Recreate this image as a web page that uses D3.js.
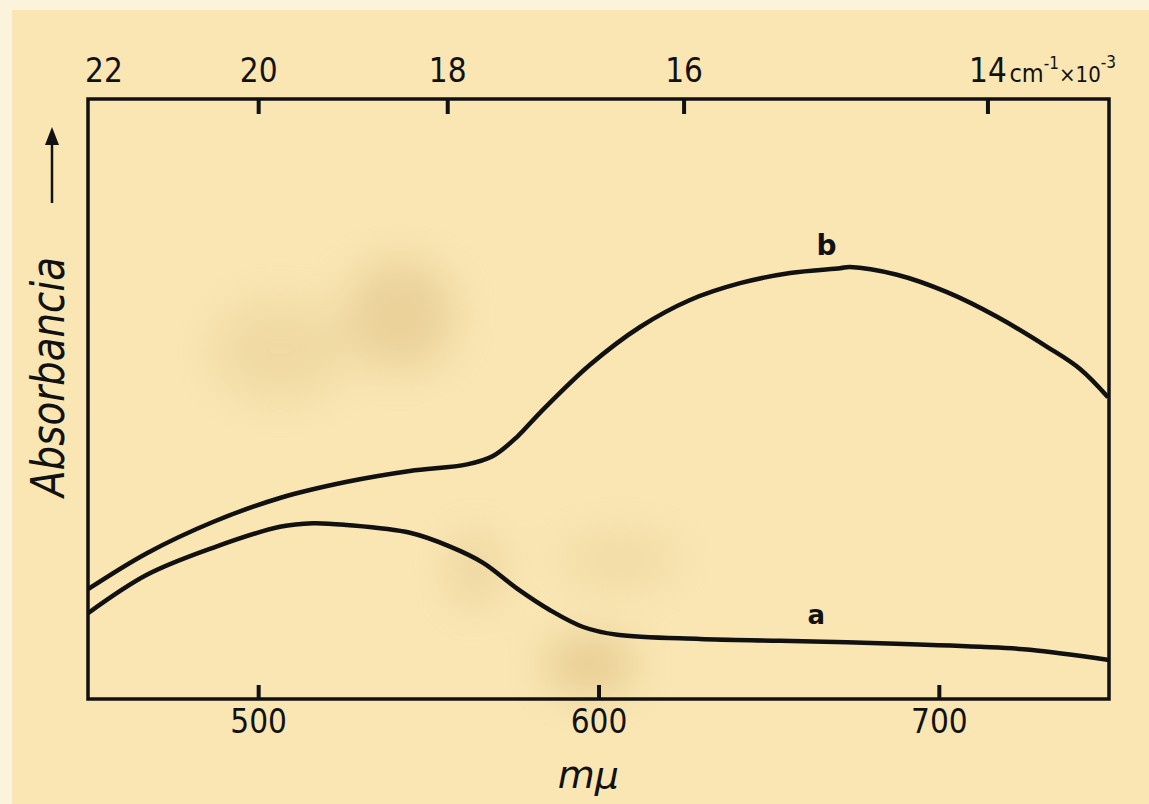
<!DOCTYPE html>
<html>
<head>
<meta charset="utf-8">
<script src="https://cdn.jsdelivr.net/npm/d3@7"></script>
<style>
  body { margin: 0; background: #fbf3dc; }
  svg text { fill: #111; }
</style>
</head>
<body>
<div id="chart"></div>
<script>
// Wavelength (mμ) and absorbance (arbitrary units)
var wavelengthB = [450, 467.3, 486.7, 506.4, 526.1, 544.6, 561.4, 569, 576.1, 582.8, 597.5, 612.2, 626.9, 641.6, 656.3, 671, 673.9, 687.7, 702.4, 717.1, 731.8, 741.5, 749.7];
var absorbB     = [0.183, 0.243, 0.295, 0.335, 0.362, 0.380, 0.391, 0.405, 0.437, 0.477, 0.557, 0.620, 0.665, 0.693, 0.710, 0.718, 0.720, 0.707, 0.678, 0.637, 0.587, 0.550, 0.503];

var wavelengthA = [450, 467.3, 486.7, 506.4, 516.1, 526.1, 544.6, 556.4, 566.1, 576.1, 585.8, 595.5, 605.5, 629.8, 653.4, 682.7, 712.1, 726.8, 750];
var absorbA     = [0.143, 0.207, 0.252, 0.287, 0.293, 0.290, 0.277, 0.254, 0.227, 0.184, 0.148, 0.120, 0.107, 0.100, 0.097, 0.093, 0.087, 0.082, 0.065];

// Tick labels
var nmTicks = [500, 600, 700];
var waveTicks = [22, 20, 18, 16, 14]; // cm-1 x 10-3

var svgWidth = 1149;
var svgHeight = 804;

var margin = { top: 99, right: 40, bottom: 105, left: 88 };
var chartWidth = svgWidth - margin.left - margin.right;
var chartHeight = svgHeight - margin.top - margin.bottom;

var svg = d3.select("#chart")
  .append("svg")
  .attr("width", svgWidth)
  .attr("height", svgHeight);

// paper
var defs = svg.append("defs");
defs.append("filter").attr("id", "blur")
  .append("feGaussianBlur").attr("stdDeviation", 22);

svg.append("rect")
  .attr("x", 12).attr("y", 10)
  .attr("width", svgWidth - 12).attr("height", svgHeight - 10)
  .attr("fill", "#f9e6b3");

var stains = svg.append("g").attr("filter", "url(#blur)").attr("opacity", 0.3);
stains.append("ellipse").attr("cx", 400).attr("cy", 315).attr("rx", 55).attr("ry", 55).attr("fill", "#c9a060");
stains.append("ellipse").attr("cx", 590).attr("cy", 665).attr("rx", 45).attr("ry", 28).attr("fill", "#b88c3c");
stains.append("ellipse").attr("cx", 475).attr("cy", 570).attr("rx", 22).attr("ry", 35).attr("fill", "#c9a060");
stains.append("ellipse").attr("cx", 280).attr("cy", 350).attr("rx", 70).attr("ry", 50).attr("fill", "#ddbd80");
stains.append("ellipse").attr("cx", 620).attr("cy", 560).attr("rx", 60).attr("ry", 25).attr("fill", "#ddbd80");

var chartGroup = svg.append("g")
  .attr("transform", `translate(${margin.left}, ${margin.top})`);

// Scales
var xScale = d3.scaleLinear()
  .domain([450, 750])
  .range([0, chartWidth]);

var yScale = d3.scaleLinear()
  .domain([0, 1])
  .range([chartHeight, 0]);

// Frame
chartGroup.append("rect")
  .attr("width", chartWidth)
  .attr("height", chartHeight)
  .attr("fill", "none")
  .attr("stroke", "#111")
  .attr("stroke-width", 3.5);

// Bottom axis (wavelength)
var bottomAxis = d3.axisBottom(xScale)
  .tickValues(nmTicks)
  .tickSize(-14)
  .tickPadding(11)
  .tickFormat(d3.format("d"));

var gBottom = chartGroup.append("g")
  .attr("transform", `translate(0, ${chartHeight})`)
  .call(bottomAxis);

// Top axis (wavenumber, nonlinear in mμ)
var topAxis = d3.axisTop(xScale)
  .tickValues(waveTicks.map(k => 1e4 / k))
  .tickSize(-15)
  .tickPadding(17)
  .tickFormat(d => Math.round(1e4 / d));

var gTop = chartGroup.append("g").call(topAxis);

[gBottom, gTop].forEach(function(g) {
  g.select(".domain").remove();
  g.selectAll("line").attr("stroke", "#111").attr("stroke-width", 4);
  g.selectAll("text")
    .attr("font-family", "DejaVu Sans Condensed, DejaVu Sans, sans-serif")
    .attr("font-size", 33)
    .attr("fill", "#111");
});

// no tick mark for 22, label only
gTop.selectAll(".tick").filter(d => Math.round(1e4 / d) === 22).select("line").remove();

// unit next to the 14 label
var unit = chartGroup.append("text")
  .attr("x", xScale(1e4 / 14) + 22)
  .attr("y", -17)
  .attr("font-family", "DejaVu Sans Condensed, DejaVu Sans, sans-serif")
  .attr("font-size", 25)
  .attr("fill", "#111");
unit.append("tspan").text("cm");
unit.append("tspan").attr("dy", -13).attr("font-size", 17).text("-1");
unit.append("tspan").attr("dy", 13).attr("font-size", 22).text("×10");
unit.append("tspan").attr("dy", -14).attr("font-size", 17).text("-3");

// Curves
var line = d3.line()
  .x(d => xScale(d[0]))
  .y(d => yScale(d[1]))
  .curve(d3.curveCatmullRom.alpha(0.5));

var seriesA = wavelengthA.map((w, i) => [w, absorbA[i]]);
var seriesB = wavelengthB.map((w, i) => [w, absorbB[i]]);

[seriesA, seriesB].forEach(function(s) {
  chartGroup.append("path")
    .datum(s)
    .attr("d", line)
    .attr("fill", "none")
    .attr("stroke", "#111")
    .attr("stroke-width", 4.5)
    .attr("stroke-linejoin", "round");
});

// Curve labels
chartGroup.append("text")
  .attr("x", xScale(667))
  .attr("y", yScale(0.720) - 12)
  .attr("text-anchor", "middle")
  .attr("font-family", "DejaVu Sans, sans-serif")
  .attr("font-weight", "bold")
  .attr("font-size", 28)
  .text("b");

chartGroup.append("text")
  .attr("x", xScale(664))
  .attr("y", yScale(0.097) - 17)
  .attr("text-anchor", "middle")
  .attr("font-family", "DejaVu Sans, sans-serif")
  .attr("font-weight", "bold")
  .attr("font-size", 26)
  .text("a");

// Axis titles
chartGroup.append("text")
  .attr("x", xScale(597))
  .attr("y", chartHeight + 89)
  .attr("text-anchor", "middle")
  .attr("font-family", "DejaVu Sans, sans-serif")
  .attr("font-style", "italic")
  .attr("font-size", 38)
  .text("mμ");

chartGroup.append("text")
  .attr("transform", "rotate(-90)")
  .attr("x", -398)
  .attr("y", -24)
  .attr("textLength", 240)
  .attr("lengthAdjust", "spacingAndGlyphs")
  .attr("font-family", "DejaVu Sans Condensed, DejaVu Sans, sans-serif")
  .attr("font-style", "italic")
  .attr("font-size", 46)
  .text("Absorbancia");

// arrow beside the y title
chartGroup.append("line")
  .attr("x1", -36).attr("x2", -36)
  .attr("y1", 104).attr("y2", 40)
  .attr("stroke", "#111")
  .attr("stroke-width", 2.5);
chartGroup.append("path")
  .attr("d", "M-43,46 L-36,28 L-29,46 Z")
  .attr("fill", "#111");
</script>
</body>
</html>
